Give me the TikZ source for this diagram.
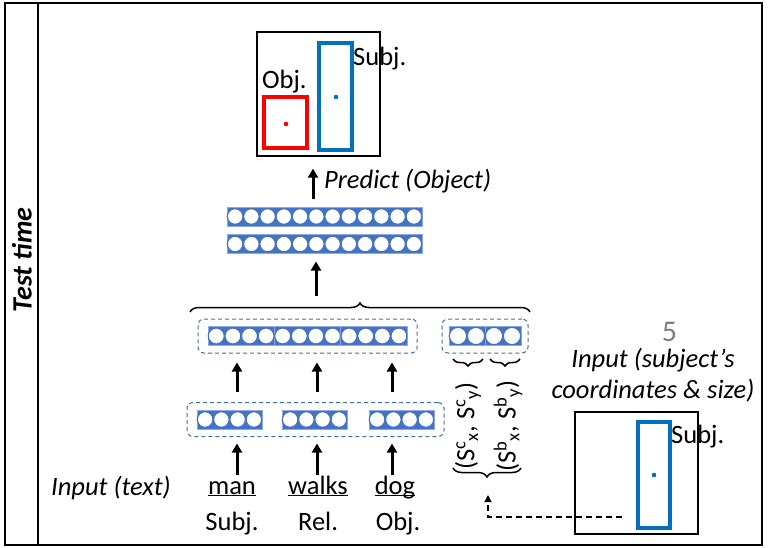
\documentclass[tikz,border=0pt]{standalone}
\usepackage{fontspec}
\setmainfont{Carlito}
\usetikzlibrary{arrows.meta,positioning,fit,calc,decorations.pathreplacing}

\definecolor{cellblue}{HTML}{4472C4}
\definecolor{celledge}{HTML}{8FAADC}
\definecolor{groupblue}{HTML}{41719C}
\definecolor{subjblue}{HTML}{0070C0}
\definecolor{objred}{HTML}{FF0000}
\definecolor{numgray}{HTML}{7F7F7F}

\newcommand{\lblsize}{\fontsize{26.5}{31}\selectfont}
% one row of neurons: name, centre, cells, cell width
\newcommand{\cellrow}[4]{%
  \node[cellbar, minimum width={#3*#4*1pt}] (#1) at (#2) {};
  \foreach \k in {1,...,#3}
    \draw[cellring] ($(#1.west)+({(\k-0.5)*#4},0)$) circle[radius={(#4-0.6)/2*1pt}];
}

\begin{document}
\begin{tikzpicture}[
    x=1pt, y=-1pt,
    txt/.style={font=\lblsize, inner sep=0pt},
    txtit/.style={font=\lblsize\itshape, inner sep=0pt},
    word/.style={txt, anchor=base, text height=12pt, text depth=0pt},
    cellbar/.style={draw=celledge, fill=cellblue, line width=0.8pt, minimum height=19pt, inner sep=0pt, outer sep=0pt},
    cellring/.style={draw=cellblue, fill=white, line width=1.2pt},
    group/.style={draw=groupblue, dash pattern=on 4pt off 3pt, line width=1pt, rounded corners=6pt, inner xsep=10pt, inner ysep=7.5pt},
    uparrow/.style={-{Triangle[length=9pt,width=10pt]}, line width=3pt},
    bbox/.style={draw=subjblue, line width=3.8pt},
    imgframe/.style={draw, line width=1.3pt, inner sep=0pt},
    curly/.style={decorate, decoration={brace, amplitude=#1}, line width=1.5pt},
    curlyflip/.style={decorate, decoration={brace, mirror, amplitude=#1}, line width=1.5pt}
  ]
    \useasboundingbox (0,0) rectangle (769,547);

    % Frame
    \draw[line width=2pt] (5,3) rectangle (762,545);
    \draw[line width=2pt] (38,3) -- (38,545);
    \node[txt, font=\fontsize{28}{33}\selectfont\bfseries\itshape, rotate=90] (phase) at (22,260) {Test time};

    % Predicted boxes
    \node[imgframe, minimum width=123pt, minimum height=124pt] (outimg) at (318.5,94) {};
    \draw[draw=objred, line width=3.8pt] (264,97) rectangle (307,148);
    \fill[objred] (286,124) circle (2.3pt);
    \draw[bbox] (319,43) rectangle (352,150);
    \fill[subjblue] (336,97) circle (2.3pt);
    \node[txt, anchor=base west] (objout) at (262,88) {Obj.};
    \node[txt, anchor=base west] (subjout) at (353,65) {Subj.};

    % Fully connected layers
    \cellrow{fcb}{324.5,216.5}{12}{16.25}
    \cellrow{fca}{324.5,244}{12}{16.25}
    \draw[uparrow, shorten <=8pt, shorten >=12pt] ([xshift=-11.5pt]fcb.north) -- ([xshift=-11.5pt]fcb.north |- outimg.south);
    \node[txtit, anchor=base west] (predict) at (324,188) {Predict (Object)};

    \coordinate (join) at (316,303);
    \draw[uparrow, shorten <=7pt, shorten >=8pt] (join) -- (join |- fca.south);
    \draw[curly=9] (190,312) -- (530,312);

    % Concatenated text features
    \cellrow{cat1}{241.2,336}{4}{16.6}
    \cellrow{cat2}{307.6,336}{4}{16.6}
    \cellrow{cat3}{374,336}{4}{16.6}
    \node[group, fit=(cat1)(cat3)] (catgroup) {};

    % Subject location features
    \cellrow{loc1}{467,336}{2}{18}
    \cellrow{loc2}{503,336}{2}{18}
    \node[group, fit=(loc1)(loc2), inner xsep=7pt] (locgroup) {};
    \draw[curlyflip=7] (453,359) -- (483,359);
    \draw[curlyflip=7] (490,359) -- (520,359);
    \node[txt, rotate=90] (locc) at (468,426) {(S\textsuperscript{c}\textsubscript{x}, S\textsuperscript{c}\textsubscript{y})};
    \node[txt, rotate=90] (locb) at (508,426) {(S\textsuperscript{b}\textsubscript{x}, S\textsuperscript{b}\textsubscript{y})};
    \draw[curlyflip=9] (453,468) -- (521,468);

    % Word embeddings
    \cellrow{emb1}{229.5,419.5}{4}{16.25}
    \cellrow{emb2}{314.5,419.5}{4}{16.25}
    \cellrow{emb3}{401.5,419.5}{4}{16.25}
    \node[group, fit=(emb1)(emb3)] (embgroup) {};

    \node[word] (man) at (232,494) {\underline{\smash{man}}};
    \node[word] (walks) at (318,494) {\underline{\smash{walks}}};
    \node[word] (dog) at (395,494) {\underline{\smash{dog}}};
    \node[txt, anchor=base] (subjw) at (232,530) {Subj.};
    \node[txt, anchor=base] (relw) at (318,530) {Rel.};
    \node[txt, anchor=base] (objw) at (398,530) {Obj.};
    \node[txtit, anchor=base east] (textin) at (171,495) {Input (text)};

    \foreach \w/\ax in {man/237, walks/317, dog/392} {
      \path (\ax,0) coordinate (ax);
      \draw[uparrow, shorten <=7pt, shorten >=6.5pt] (ax |- \w.north) -- (ax |- embgroup.south);
      \draw[uparrow, shorten <=10pt, shorten >=9pt] (ax |- embgroup.north) -- (ax |- catgroup.south);
    }

    % Subject location input
    \node[txt, text=numgray, font=\fontsize{30}{36}\selectfont, anchor=base] (stepnum) at (669.5,341) {5};
    \node[txtit, anchor=base] (locinfo1) at (653,367) {Input (subject’s};
    \node[txtit, anchor=base] (locinfo2) at (653,398) {coordinates \& size)};
    \node[imgframe, minimum width=123pt, minimum height=122pt] (inimg) at (636.5,473) {};
    \draw[bbox] (638,422) rectangle (670,528);
    \fill[subjblue] (654,475) circle (2.3pt);
    \node[txt, anchor=base west] (subjin) at (671,443) {Subj.};

    \coordinate (locsrc) at (622,517);
    \coordinate (loctip) at (488,477);
    \draw[dash pattern=on 6pt off 4pt, line width=1.2pt, -{Triangle[length=7pt,width=7pt]}, shorten >=18pt] (locsrc) -- (locsrc -| loctip) -- (loctip);
  \end{tikzpicture}
\end{document}
